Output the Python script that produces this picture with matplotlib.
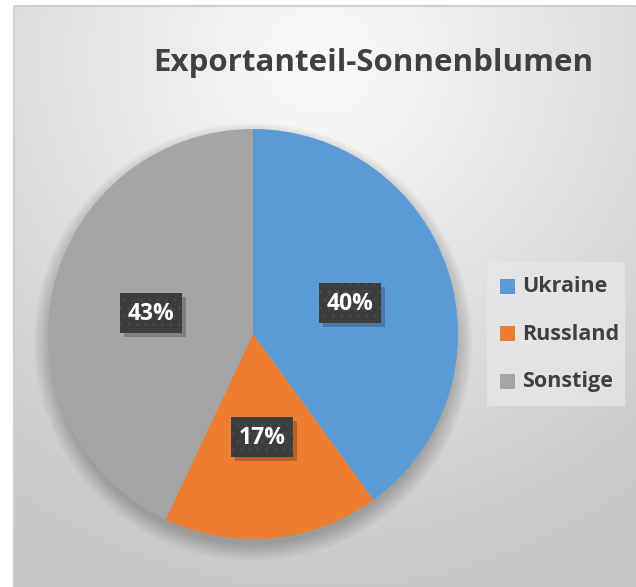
import numpy as np
import matplotlib
matplotlib.use("Agg")
import matplotlib.pyplot as plt
from matplotlib.patches import Rectangle, Circle

labels = ["Ukraine", "Russland", "Sonstige"]
values = [40, 17, 43]
colors = ["#5B9BD5", "#ED7D31", "#A5A5A5"]
title = "Exportanteil-Sonnenblumen"

W, H = 636, 587
fig = plt.figure(figsize=(W / 100, H / 100), dpi=100)
fig.patch.set_facecolor("white")

# background panel with radial gradient
bg = fig.add_axes([0, 0, 1, 1])
bg.set_xlim(0, W)
bg.set_ylim(H, 0)
bg.axis("off")
x0, y0 = 14, 6
yy, xx = np.mgrid[y0:H, x0:W]
d = np.sqrt((xx - 320) ** 2 + (yy - 60) ** 2)
t = np.clip(d / 560, 0, 1)
val = 0.985 - t * 0.21
img = np.dstack([val, val, val])
bg.imshow(img, extent=[x0, W, H, y0], origin="upper", zorder=0, interpolation="bilinear")
bg.add_patch(Rectangle((x0, y0), W - x0 + 2, H - y0 + 2, fill=False, ec="#cfcfcf", lw=1.5, zorder=1))

# pie shadow
cx, cy, r = 253, 334, 205
for i in range(12):
    rr = r + 14 - i * 1.5
    bg.add_patch(Circle((cx, cy + 8), rr, color="black", alpha=0.018, lw=0, zorder=2))

# legend background
bg.add_patch(Rectangle((487, 262), 138, 144, fc="#e6e6e6", ec="none", alpha=0.85, zorder=3))

# pie
ax = fig.add_axes([(cx - r) / W, (H - cy - r) / H, 2 * r / W, 2 * r / H])
wedges, _ = ax.pie(values, colors=colors, startangle=90, counterclock=False, radius=1,
                   wedgeprops=dict(linewidth=0))
ax.set_xlim(-1, 1)
ax.set_ylim(-1, 1)
ax.set_aspect("equal")
ax.axis("off")

# overlay for labels and text
ov = fig.add_axes([0, 0, 1, 1])
ov.set_xlim(0, W)
ov.set_ylim(H, 0)
ov.axis("off")
ov.patch.set_alpha(0)

ov.text(373, 63, title, ha="center", va="center", fontsize=22.5, fontweight="bold",
        color="#404040", family="Open Sans", zorder=5)

label_pos = [(350, 303), (262, 437), (151, 313)]
for (px, py), v in zip(label_pos, values):
    ov.add_patch(Rectangle((px - 31 + 4, py - 20 + 4), 62, 40, color="black", alpha=0.22, lw=0, zorder=6))
    ov.add_patch(Rectangle((px - 31, py - 20), 62, 40, fc="#3d3d3d", ec="#4a4a4a", hatch="..",
                           lw=0, zorder=7))
    ov.text(px, py + 1, f"{v}%", ha="center", va="center", fontsize=16.5, fontweight="bold",
            color="white", family="Open Sans", zorder=8)

leg_y = [286, 333, 381]
for lab, col, ly in zip(labels, colors, leg_y):
    ov.add_patch(Rectangle((500, ly - 7), 15, 15, fc=col, ec="none", zorder=4))
    ov.text(522, ly + 1, lab, ha="left", va="center", fontsize=15.5, fontweight="bold",
            color="#404040", family="Open Sans", zorder=5)

fig.savefig("out.png", dpi=100)
